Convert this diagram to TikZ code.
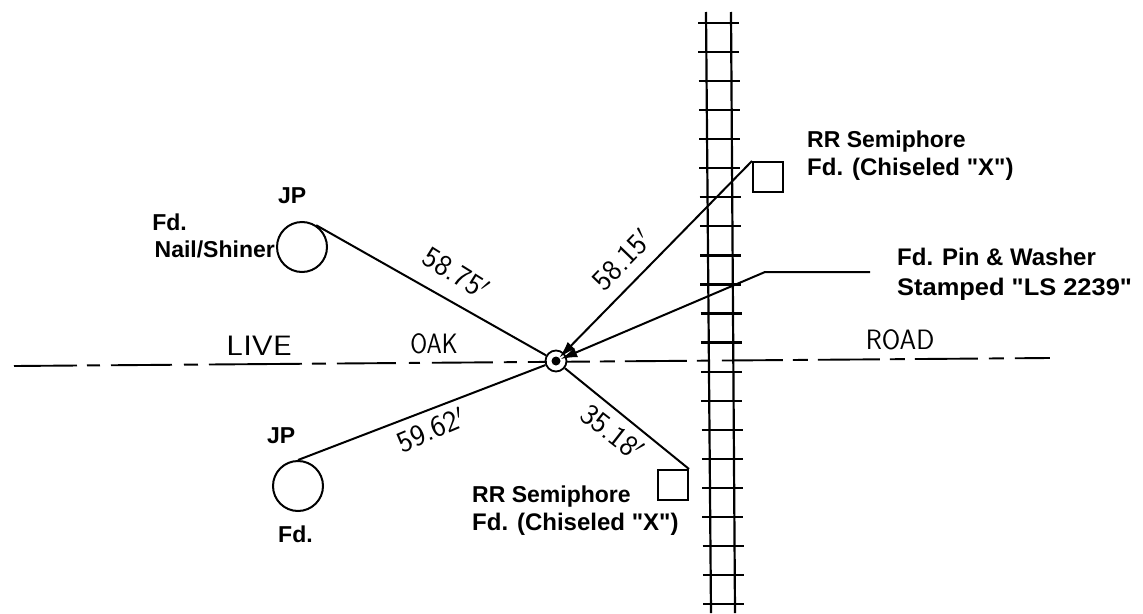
\documentclass[tikz,border=0pt]{standalone}
\usepackage{fontspec}
\setmainfont{Liberation Sans}
\usetikzlibrary{arrows.meta}
\tikzset{
  tiepen/.style={line width=2.2pt},
  leader/.style={line width=2pt},
  monument/.style={draw, circle, line width=2pt, minimum size=50pt, inner sep=0pt},
  semibox/.style={draw, rectangle, line width=2pt, minimum size=30pt, inner sep=0pt},
  note/.style={font=\bfseries\fontsize{23}{28}\selectfont, inner sep=0pt},
  widenote/.style={font=\bfseries\fontsize{24}{28}\selectfont, inner sep=0pt},
  dist/.style={font=\sffamily\fontsize{30}{32}\selectfont, inner sep=0pt},
  street/.style={font=\sffamily\fontsize{28}{30}\selectfont, inner sep=0pt}
}
\begin{document}
\begin{tikzpicture}[x=1pt,y=-1pt]
            \useasboundingbox (0,0) rectangle (1143,613);
            \draw[line width=1.9pt, dash pattern=on 63pt off 10pt on 13pt off 11pt on 61pt off 12pt on 14pt off 11pt on 93pt off 10pt on 14pt off 11pt on 59pt off 13pt on 11pt off 12pt on 61pt off 11pt on 13pt off 11pt on 19pt off 20pt on 23pt off 10pt on 15pt off 10pt on 62pt off 10pt on 11pt off 14pt on 61pt off 10pt on 15pt off 10pt on 62pt off 10pt on 15pt off 10pt on 63pt off 11pt on 15pt off 11pt on 35pt off 5pt] (14,366) -- (1050,358);
            \draw[tiepen] (706,12) -- (711,613);
            \draw[tiepen] (731,12) -- (735,613);
            \foreach \k in {0,...,20}
                \draw[tiepen] (698+.25*\k,23+29.05*\k) -- (739+.25*\k,23+29.05*\k);
            \node[monument] (jpnorth) at (302,247) {};
            \node[monument] (jpsouth) at (298,486) {};
            \node[semibox] (semieast) at (768,177) {};
            \node[semibox] (semisouth) at (673,485) {};
            \node[draw, circle, line width=1.8pt, minimum size=21pt, inner sep=0pt] (pin) at (556,361) {};
            \node[fill, circle, minimum size=9pt, inner sep=0pt] (pindot) at (556,361) {};
            \coordinate (pinelbow) at (765,272);
            \coordinate (pinend) at (870,272);
            \draw[leader] (jpnorth.57) -- (pin);
            \draw[leader] (jpsouth.north) -- (pin);
            \draw[leader] (semisouth.north east) -- (pin);
            \draw[leader, -{Latex[length=17pt,width=10pt]}] (semieast.north west) -- (pindot);
            \draw[leader, -{Latex[length=17pt,width=10pt]}] (pinend) -- (pinelbow) -- (pindot);
            \node[dist, rotate=-32] (distnw) at (456,273) {58.75$'$};
            \node[dist, rotate=46] (distne) at (622,260) {58.15$'$};
            \node[dist, rotate=23] (distsw) at (431,430) {59.62$'$};
            \node[dist, rotate=-38] (distse) at (612,432) {35.18$'$};
            \node[street, xscale=1.2] (live) at (259,346) {LIVE};
            \node[street, xscale=.87] (oak) at (434,344) {OAK};
            \node[street, xscale=.95] (road) at (900,340) {ROAD};
            \node[note, anchor=base west] (jpnlabel) at (278,203) {JP};
            \node[note, anchor=base east] (fdnlabel) at (187,230) {Fd.};
            \node[note, anchor=base east] (naillabel) at (275,257) {Nail/Shiner};
            \node[note, anchor=base west] (jpslabel) at (267,443) {JP};
            \node[note, anchor=base west] (fdslabel) at (278,542) {Fd.};
            \node[note, anchor=base west] (rrelabel) at (807,147) {RR Semiphore};
            \node[widenote, anchor=base west] (rrefd) at (807,175) {Fd. (Chiseled \textquotedbl X\textquotedbl)};
            \node[widenote, anchor=base west] (pinlabel) at (897,265) {Fd. Pin \& Washer};
            \node[widenote, anchor=base west, xscale=1.06] (pinstamp) at (897,295) {Stamped \textquotedbl LS 2239\textquotedbl};
            \node[note, anchor=base west] (rrslabel) at (472,502) {RR Semiphore};
            \node[widenote, anchor=base west] (rrsfd) at (472,530) {Fd. (Chiseled \textquotedbl X\textquotedbl)};
        \end{tikzpicture}
\end{document}
